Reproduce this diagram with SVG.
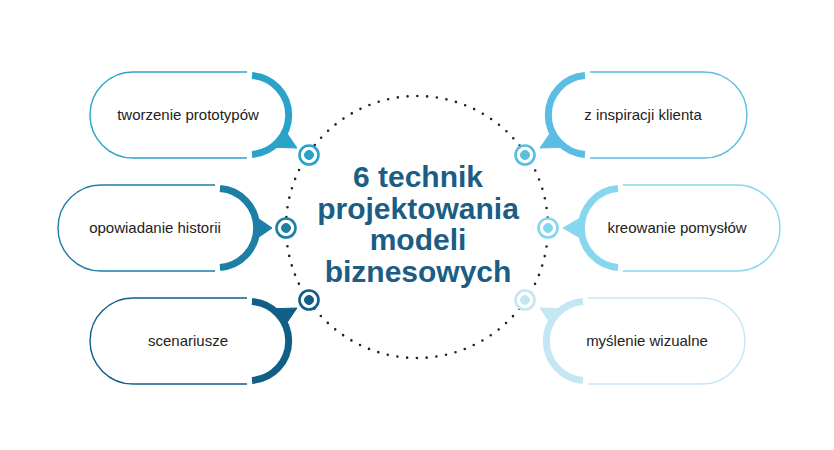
<svg xmlns="http://www.w3.org/2000/svg" width="834" height="450" viewBox="0 0 834 450">
  <style>
    .thin{fill:none;stroke-width:1.4}
    .thick{fill:none;stroke-width:7}
    .lbl{font-family:"Liberation Sans",Arial,sans-serif;font-size:15px;fill:#222;text-anchor:middle}
    .title{font-family:"Liberation Sans",Arial,sans-serif;font-size:30px;font-weight:bold;fill:#1b5d85;text-anchor:middle}
    .ring{fill:#fff;stroke-width:2.6}
    .c1{stroke:#2aa3c9;fill:#2aa3c9}
    .c2{stroke:#1d7ea6;fill:#1d7ea6}
    .c3{stroke:#115f86;fill:#115f86}
    .c4{stroke:#5bbde3;fill:#5bbde3}
    .c5{stroke:#86d6ee;fill:#86d6ee}
    .c6{stroke:#c3e7f3;fill:#c3e7f3}
  </style>
  <rect width="834" height="450" fill="#fff"/>
  <g id="center">
    <circle cx="417" cy="227" r="131" fill="none" stroke="#1a2533" stroke-width="2.6" stroke-linecap="round" stroke-dasharray="0 9.8"/>
    <text class="title" x="418" y="187">6 technik</text>
    <text class="title" x="418" y="219">projektowania</text>
    <text class="title" x="418" y="250">modeli</text>
    <text class="title" x="418" y="282">biznesowych</text>
  </g>
  <g id="node1">
    <path class="thin c1" style="fill:none" d="M247,72 H133 A43 43 0 0 0 133,158 H247"/>
    <path class="thick c1" style="fill:none" d="M252,75.6 A39.5 39.5 0 0 1 252,154.4"/>
    <text class="lbl" x="188" y="120">tworzenie prototypów</text>
  </g>
  <g id="node2">
    <path class="thin c2" style="fill:none" d="M215,185 H101 A43 43 0 0 0 101,271 H215"/>
    <path class="thick c2" style="fill:none" d="M220,188.6 A39.5 39.5 0 0 1 220,267.4"/>
    <text class="lbl" x="155" y="233">opowiadanie historii</text>
  </g>
  <g id="node3">
    <path class="thin c3" style="fill:none" d="M247,298 H133 A43 43 0 0 0 133,384 H247"/>
    <path class="thick c3" style="fill:none" d="M252,301.6 A39.5 39.5 0 0 1 252,380.4"/>
    <text class="lbl" x="188" y="346">scenariusze</text>
  </g>
  <g id="node4">
    <path class="thin c4" style="fill:none" d="M590,72 H704 A43 43 0 0 1 704,158 H590"/>
    <path class="thick c4" style="fill:none" d="M585,75.6 A39.5 39.5 0 0 0 585,154.4"/>
    <text class="lbl" x="643" y="120">z inspiracji klienta</text>
  </g>
  <g id="node5">
    <path class="thin c5" style="fill:none" d="M623,185 H737 A43 43 0 0 1 737,271 H623"/>
    <path class="thick c5" style="fill:none" d="M618,188.6 A39.5 39.5 0 0 0 618,267.4"/>
    <text class="lbl" x="677" y="233">kreowanie pomysłów</text>
  </g>
  <g id="node6">
    <path class="thin c6" style="fill:none" d="M588,298 H702 A43 43 0 0 1 702,384 H588"/>
    <path class="thick c6" style="fill:none" d="M583,301.6 A39.5 39.5 0 0 0 583,380.4"/>
    <text class="lbl" x="647" y="346">myślenie wizualne</text>
  </g>
  <g id="connectors">
    <polygon class="c1" stroke="none" points="286.2,132.3 274.2,147.3 297,148"/>
    <polygon class="c2" stroke="none" points="256.6,217.4 256.6,238.6 272,228"/>
    <polygon class="c3" stroke="none" points="286.2,323.7 274.2,308.7 297,308"/>
    <polygon class="c4" stroke="none" points="550.8,132.3 562.8,147.3 540,148"/>
    <polygon class="c5" stroke="none" points="581.4,217.4 581.4,238.6 563,228"/>
    <polygon class="c6" stroke="none" points="550.8,323.7 562.8,308.7 540,308"/>
    <circle class="ring c1" style="fill:#fff" cx="309" cy="155" r="9.5"/><circle class="c1" stroke="none" cx="309" cy="155" r="4.5"/>
    <circle class="ring c2" style="fill:#fff" cx="286" cy="228" r="9.5"/><circle class="c2" stroke="none" cx="286" cy="228" r="4.5"/>
    <circle class="ring c3" style="fill:#fff" cx="309" cy="300" r="9.5"/><circle class="c3" stroke="none" cx="309" cy="300" r="4.5"/>
    <circle class="ring c4" style="fill:#fff" cx="525" cy="155" r="9.5"/><circle class="c4" stroke="none" cx="525" cy="155" r="4.5"/>
    <circle class="ring c5" style="fill:#fff" cx="548" cy="228" r="9.5"/><circle class="c5" stroke="none" cx="548" cy="228" r="4.5"/>
    <circle class="ring c6" style="fill:#fff" cx="525" cy="300" r="9.5"/><circle class="c6" stroke="none" cx="525" cy="300" r="4.5"/>
  </g>
</svg>
